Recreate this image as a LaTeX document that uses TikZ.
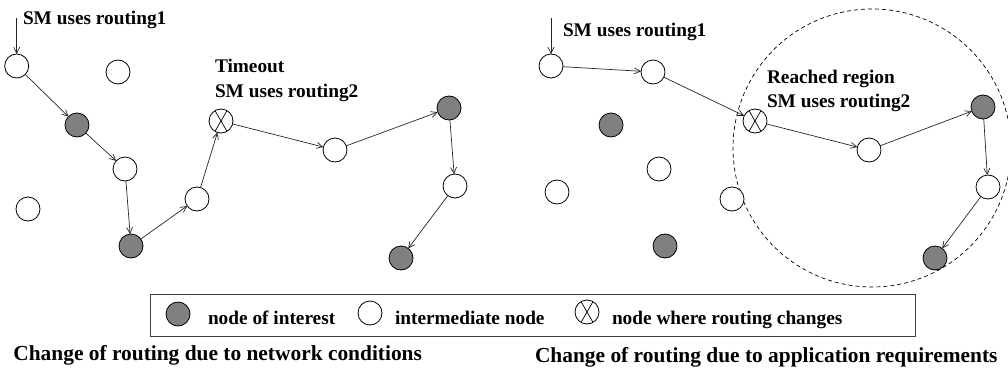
\documentclass[tikz,border=0pt]{standalone}
\usepackage{fontspec}
\setmainfont{Liberation Serif}
\usetikzlibrary{arrows.meta}
\begin{document}
\begin{tikzpicture}[x=1pt,y=-1pt,
  every node/.style={inner sep=0pt,outer sep=0pt},
  wnode/.style={circle,draw=black,line width=0.8pt,minimum size=24pt,fill=white},
  gnode/.style={wnode,fill=gray},
  xnode/.style={wnode,path picture={
      \draw[line width=0.7pt] (path picture bounding box.center) ++(120:12pt) -- ++(300:24pt);
      \draw[line width=0.7pt] (path picture bounding box.center) ++(60:12pt) -- ++(240:24pt);}},
  edge/.style={draw=black!85,line width=0.7pt,-{Straight Barb[length=6pt,width=6pt]}},
  lbl/.style={font=\bfseries\fontsize{19.3}{22}\selectfont,anchor=base west},
  captext/.style={font=\bfseries\fontsize{21.4}{24}\selectfont,anchor=base west}]
\useasboundingbox (0,0) rectangle (1008,375);

% ---------- left panel ----------
\node[wnode] (n1) at (16.7,66) {};
\node[wnode] (n2) at (118,72) {};
\node[gnode] (g1) at (77,125) {};
\node[wnode] (n3) at (125,169) {};
\node[wnode] (n4) at (28,209) {};
\node[gnode] (g2) at (131,246) {};
\node[wnode] (n5) at (197,199) {};
\node[xnode] (x1) at (221,121) {};
\node[wnode] (n6) at (335,150) {};
\node[gnode] (g3) at (449,108) {};
\node[wnode] (n7) at (455,186) {};
\node[gnode] (g4) at (401,258) {};
\coordinate (s1) at (16.7,18);

\node[lbl] (l1) at (23,24) {SM uses routing1};
\node[lbl] (l2) at (215,72) {Timeout};
\node[lbl] (l3) at (215,97) {SM uses routing2};

\draw[edge] (s1) -- (n1);
\draw[edge] (n1) -- (g1);
\draw[edge] (g1) -- (n3);
\draw[edge] (n3) -- (g2);
\draw[edge] (g2) -- (n5);
\draw[edge] (n5) -- (x1);
\draw[edge] (x1) -- (n6);
\draw[edge] (n6) -- (g3);
\draw[edge] (g3) -- (n7);
\draw[edge] (n7) -- (g4);

% ---------- right panel ----------
\draw[line width=0.7pt,dash pattern=on 4pt off 3pt] (872,148) circle (139);

\node[wnode] (r1) at (551,66) {};
\node[wnode] (r2) at (653,72) {};
\node[gnode] (rg1) at (611,125) {};
\node[wnode] (r3) at (659,169) {};
\node[wnode] (r4) at (557,192) {};
\node[wnode] (r5) at (732,199) {};
\node[gnode] (rg2) at (665,246) {};
\node[xnode] (rx) at (755,121) {};
\node[wnode] (r6) at (869,150) {};
\node[gnode] (rg3) at (983,107) {};
\node[wnode] (r7) at (988,187) {};
\node[gnode] (rg4) at (935,258) {};
\coordinate (s2) at (551,18);

\node[lbl] (m1) at (563,36) {SM uses routing1};
\node[lbl] (m2) at (767,83) {Reached region};
\node[lbl] (m3) at (767,107) {SM uses routing2};

\draw[edge] (s2) -- (r1);
\draw[edge] (r1) -- (r2);
\draw[edge] (r2) -- (rx);
\draw[edge] (rx) -- (r6);
\draw[edge] (r6) -- (rg3);
\draw[edge] (rg3) -- (r7);
\draw[edge] (r7) -- (rg4);

% ---------- legend ----------
\draw[line width=0.9pt,draw=black!75,fill=white] (150,294) rectangle (915,336);
\node[gnode] (k1) at (178,314) {};
\node[lbl] (t1) at (208,324) {node of interest};
\node[wnode] (k2) at (370,313) {};
\node[lbl] (t2) at (395,324) {intermediate node};
\node[xnode] (k3) at (587,312) {};
\node[lbl] (t3) at (612,324) {node where routing changes};

% ---------- captions ----------
\node[captext,anchor=base east] (c1) at (422,360) {Change of routing due to network conditions};
\node[captext] (c2) at (535,362) {Change of routing due to application requirements};
\end{tikzpicture}
\end{document}
